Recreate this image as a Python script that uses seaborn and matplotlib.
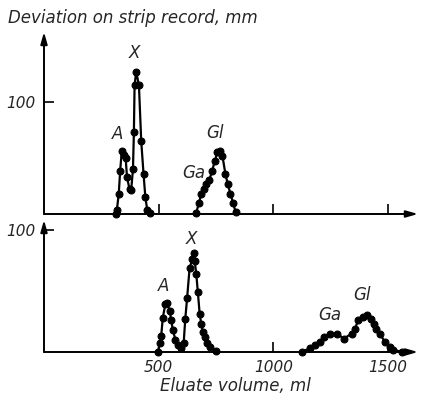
import matplotlib
matplotlib.use("Agg")
import matplotlib.pyplot as plt
import seaborn as sns
import numpy as np

sns.set_style("white")
plt.rcParams['font.family'] = ['DejaVu Sans']
plt.rcParams['font.style'] = 'italic'

# Top run
top_vol = [312, 318, 326, 332, 339, 347, 356, 362, 373, 380, 388, 392, 395, 402, 414, 424, 434, 442, 450, 461]
top_dev = [0, 4, 18, 38, 56, 53, 50, 33, 22, 21, 40, 73, 115, 127, 115, 65, 36, 15, 4, 1]
top_vol2 = [664, 675, 686, 696, 708, 720, 733, 744, 756, 766, 778, 791, 801, 813, 825, 836]
top_dev2 = [1, 9.5, 18, 22, 27, 30, 38, 47, 55, 56, 52, 36, 27, 18, 9.5, 1.5]

# Bottom run
bot_vol = [497, 504, 511, 518, 529, 536, 548, 555, 562, 573, 584, 596, 609, 616, 624, 635, 647, 653,
           657, 664, 671, 679, 686, 693, 700, 710, 725, 748]
bot_dev = [0, 7, 13, 28, 39, 40, 34, 26, 18, 10, 5.5, 3, 7, 27, 44, 69, 76, 81,
           75, 64, 49, 31, 23, 16, 12, 7, 4, 1]
bot_vol2 = [1123, 1159, 1181, 1203, 1220, 1247, 1276, 1308, 1341, 1356, 1370, 1389, 1407, 1424,
            1439, 1450, 1465, 1487, 1509, 1523, 1560]
bot_dev2 = [0, 3, 5.5, 8, 12, 15, 15, 11, 15, 19, 26, 29, 30, 27,
            23, 19, 15, 8, 4, 2, 0]

x_ticks = [500, 1000, 1500]
x_tick_labels = ["500", "1000", "1500"]

W, H = 432, 400
fig = plt.figure(figsize=(W / 100, H / 100), dpi=100)

left = 44 / W
width = (418 - 44) / W
ax1 = fig.add_axes([left, (H - 214) / H, width, (214 - 32) / H])
ax2 = fig.add_axes([left, (H - 352) / H, width, (352 - 220) / H])

xmax = (418 - 44.5) * 500 / 114.5

def style(ax, ymax):
    ax.set_xlim(0, xmax)
    ax.set_ylim(0, ymax)
    for s in ax.spines.values():
        s.set_visible(False)
    ax.set_facecolor('none')
    ax.annotate('', xy=(1.0, 0), xytext=(0, 0), xycoords='axes fraction',
                arrowprops=dict(arrowstyle='-|>,head_length=0.7,head_width=0.2', color='black', lw=1.4,
                                shrinkA=0, shrinkB=0))
    ax.annotate('', xy=(0, 1.0), xytext=(0, 0), xycoords='axes fraction',
                arrowprops=dict(arrowstyle='-|>,head_length=0.7,head_width=0.2', color='black', lw=1.4,
                                shrinkA=0, shrinkB=0))
    ax.set_yticks([100])
    ax.set_yticklabels(["100"])
    ax.set_xticks(x_ticks)
    ax.tick_params(axis='both', direction='in', length=7, width=1.2, color='black',
                   labelsize=11, pad=6, bottom=True, left=True)
    ax.set_xlabel('')
    ax.set_ylabel('')

for ax, (v1, d1, v2, d2) in [(ax1, (top_vol, top_dev, top_vol2, top_dev2)),
                             (ax2, (bot_vol, bot_dev, bot_vol2, bot_dev2))]:
    for v, d in [(v1, d1), (v2, d2)]:
        sns.lineplot(x=v, y=d, ax=ax, color='black', marker='o', markersize=5,
                     markeredgecolor='black', linewidth=1.6, sort=False, clip_on=False)

style(ax1, (214 - 32) / 112 * 100)
style(ax2, (352 - 220) / 122 * 100)
ax1.set_xticklabels([])
ax2.set_xticklabels(x_tick_labels)

fs = 12
ax1.text(321, 71, 'A', fontsize=fs, ha='center', va='center')
ax1.text(395, 144, 'X', fontsize=fs, ha='center', va='center')
ax1.text(653, 37, 'Ga', fontsize=fs, ha='center', va='center')
ax1.text(745, 72, 'Gl', fontsize=fs, ha='center', va='center')

ax2.text(522, 54, 'A', fontsize=fs, ha='center', va='center')
ax2.text(645, 93, 'X', fontsize=fs, ha='center', va='center')
ax2.text(1247, 30, 'Ga', fontsize=fs, ha='center', va='center')
ax2.text(1387, 47, 'Gl', fontsize=fs, ha='center', va='center')

fig.text(8 / W, 1 - 18 / H, 'Deviation on strip record, mm', fontsize=12, ha='left', va='center')
fig.text(235 / W, 1 - 386 / H, 'Eluate volume, ml', fontsize=12, ha='center', va='center')

fig.savefig('out.png', dpi=100)
